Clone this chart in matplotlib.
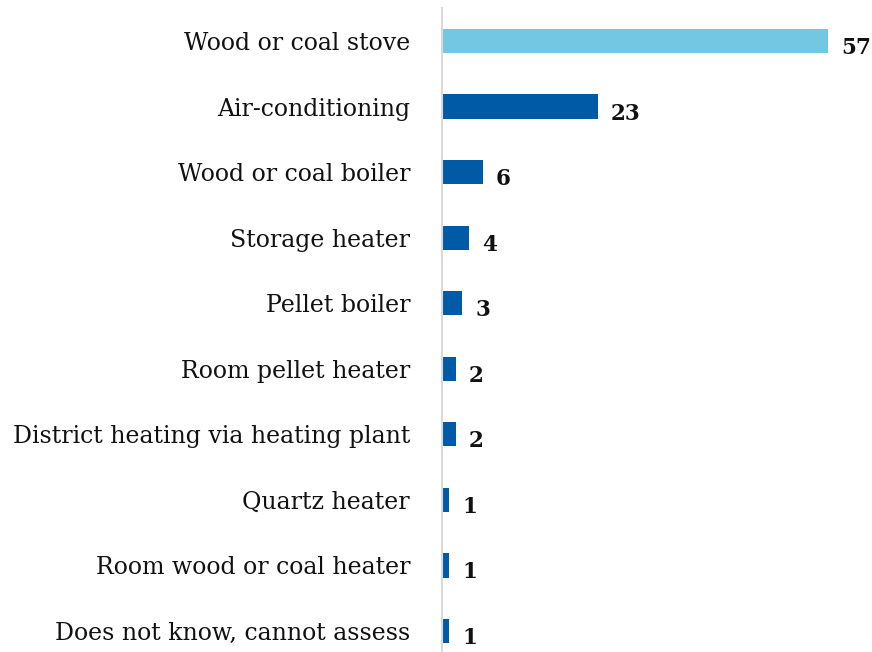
import matplotlib
matplotlib.use("Agg")
import matplotlib.pyplot as plt

categories = [
    "Wood or coal stove",
    "Air-conditioning",
    "Wood or coal boiler",
    "Storage heater",
    "Pellet boiler",
    "Room pellet heater",
    "District heating via heating plant",
    "Quartz heater",
    "Room wood or coal heater",
    "Does not know, cannot assess",
]
values = [57, 23, 6, 4, 3, 2, 2, 1, 1, 1]
highlight = [True] + [False] * 9

LIGHT = "#74C7E3"
DARK = "#005AA6"

W, H = 872, 652
fig = plt.figure(figsize=(W / 100, H / 100), dpi=100)
px_per_unit = 386 / 57
ax_left_px = 442
ax_width_px = W - ax_left_px
spacing = 590 / 9
ax_top_px = 41 - spacing / 2
ax_height_px = spacing * len(categories)
ax = fig.add_axes([ax_left_px / W, 1 - (ax_top_px + ax_height_px) / H,
                   ax_width_px / W, ax_height_px / H])

ypos = list(range(len(categories)))
colors = [LIGHT if h else DARK for h in highlight]
ax.barh(ypos, values, height=0.37, color=colors)
ax.set_xlim(0, ax_width_px / px_per_unit)
ax.set_ylim(len(categories) - 0.5, -0.5)

ax.set_yticks(ypos)
ax.set_yticklabels(categories, fontsize=17, family="DejaVu Serif", color="#111111")
ax.tick_params(axis="y", length=0, pad=23)
ax.set_xticks([])
for s in ["top", "right", "bottom"]:
    ax.spines[s].set_visible(False)
ax.spines["left"].set_color("#d9d9d9")
ax.spines["left"].set_linewidth(1.5)

for y, v in zip(ypos, values):
    ax.annotate(str(v), xy=(v, y), xytext=(9.5, -5), textcoords="offset points",
                ha="left", va="center", fontsize=15.5, fontweight="bold",
                family="DejaVu Serif", color="#111111")

fig.savefig("out.png", dpi=100)
